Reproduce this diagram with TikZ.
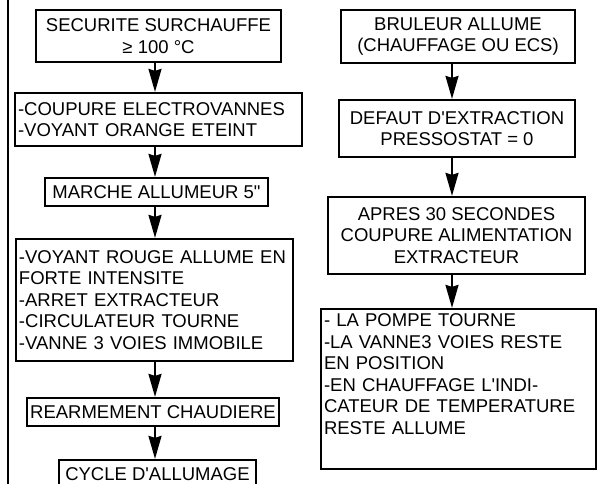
\documentclass[tikz,border=0pt]{standalone}
\usepackage{fontspec}
\setmainfont{Liberation Sans}[Ligatures=TeXOff]
\usetikzlibrary{arrows.meta}

\begin{document}
\begin{tikzpicture}[
		x=1pt, y=1pt,
		box/.style={
			draw,
			line width=2.2pt,
			align=center,
			inner xsep=3pt,
			inner ysep=2pt,
			font=\fontsize{18.5}{21.5}\selectfont,
			fill=white
		},
		listbox/.style={
			box,
			align=left        % text flush left
		},
		flow/.style={draw, line width=2pt, -{Stealth[length=23pt,width=13pt,inset=2pt]}}
		]
		
		\useasboundingbox (0,0) rectangle (597,-484);
		
		% Margin rule
		\draw[line width=2.5pt] (8,0) -- (8,-484);
		
		% Column axes for the arrows
		\coordinate (lcol) at (155,0);
		\coordinate (rcol) at (452,0);
		
		% Left column: overheat safety
		\node[box, minimum width=245, minimum height=52] (sec) at (158.5,-36)
		{SECURITE SURCHAUFFE\\≥ 100 °C};
		
		\node[listbox, text width=281, minimum height=53] (cut) at (158.5,-119.5)
		{-COUPURE ELECTROVANNES\\-VOYANT ORANGE ETEINT};
		
		\node[box, minimum width=223, minimum height=28] (spark) at (156.5,-192)
		{MARCHE ALLUMEUR 5"};
		
		\node[listbox, text width=271, minimum height=122] (alarm) at (154.5,-300)
		{-VOYANT ROUGE ALLUME EN\\FORTE INTENSITE\\-ARRET EXTRACTEUR\\-CIRCULATEUR TOURNE\\-VANNE 3 VOIES IMMOBILE};
		
		\node[box, minimum width=252, minimum height=28] (reset) at (153,-412)
		{REARMEMENT CHAUDIERE};
		
		\node[box, minimum width=197, minimum height=28] (cycle) at (157.5,-474)
		{CYCLE D'ALLUMAGE};
		
		% Right column: extraction fault
		\node[box, minimum width=234, minimum height=53] (burner) at (458,-36.5)
		{BRULEUR ALLUME\\(CHAUFFAGE OU ECS)};
		
		\node[box, minimum width=236, minimum height=57] (fault) at (457,-128.5)
		{DEFAUT D'EXTRACTION\\PRESSOSTAT = 0};
		
		\node[box, minimum width=257, minimum height=77] (delay) at (456.5,-235.5)
		{APRES 30 SECONDES\\COUPURE ALIMENTATION\\EXTRACTEUR};
		
		\node[listbox, text width=269, minimum height=160] (state) at (458.5,-389)
		{- LA POMPE TOURNE\\-LA VANNE3 VOIES RESTE\\EN POSITION\\-EN CHAUFFAGE L'INDI-\\CATEUR DE TEMPERATURE\\RESTE ALLUME\\[8pt]\mbox{}};
		
		% Flow arrows
		\draw[flow] (sec.south -| lcol) -- (cut.north -| lcol);
		\draw[flow] (cut.south -| lcol) -- (spark.north -| lcol);
		\draw[flow] (spark.south -| lcol) -- (alarm.north -| lcol);
		\draw[flow] (alarm.south -| lcol) -- (reset.north -| lcol);
		\draw[flow] (reset.south -| lcol) -- (cycle.north -| lcol);
		
		\draw[flow] (burner.south -| rcol) -- (fault.north -| rcol);
		\draw[flow] (fault.south -| rcol) -- (delay.north -| rcol);
		\draw[flow] (delay.south -| rcol) -- (state.north -| rcol);
		
	\end{tikzpicture}
\end{document}
